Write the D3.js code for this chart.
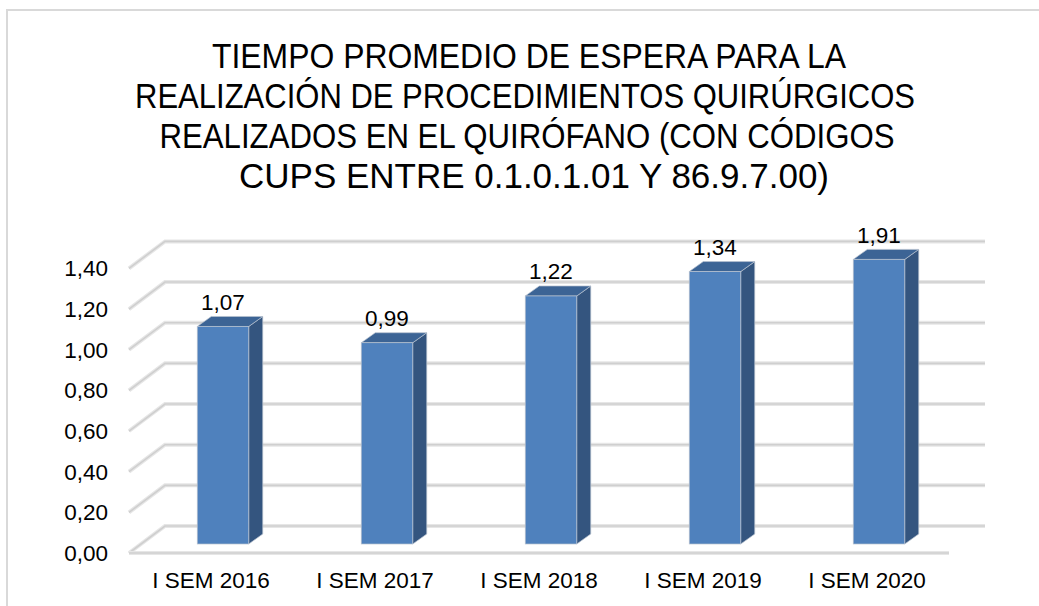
<!DOCTYPE html>
<meta charset="utf-8">
<script src="https://d3js.org/d3.v7.min.js"></script>
<style>
  body { margin: 0; background: #fff; }
  svg text { font-family: "Liberation Sans", Arial, sans-serif; fill: #000; }
</style>
<div id="chart"></div>
<script>
// data
var categories = ["I SEM 2016", "I SEM 2017", "I SEM 2018", "I SEM 2019", "I SEM 2020"];
var values = [1.07, 0.99, 1.22, 1.34, 1.91];
var valueLabels = ["1,07", "0,99", "1,22", "1,34", "1,91"];
var yTicks = [0, 0.2, 0.4, 0.6, 0.8, 1.0, 1.2, 1.4];
var titleLines = [
  "TIEMPO PROMEDIO DE ESPERA PARA LA",
  "REALIZACIÓN DE PROCEDIMIENTOS QUIRÚRGICOS",
  "REALIZADOS EN EL QUIRÓFANO (CON CÓDIGOS",
  "CUPS ENTRE 0.1.0.1.01 Y 86.9.7.00)"
];

var width = 1039, height = 606;
var yMax = 1.4;

// the title font in the picture is condensed, so each line is squeezed to its width
var titleBox = [
  {cx: 529, w: 634},
  {cx: 525, w: 780},
  {cx: 527, w: 735},
  {cx: 534, w: 590}
];

// 3d offsets: full depth of the floor, and where the bars sit in it
var depth = {dx: 36, dy: -27};
var barFront = {dx: 12, dy: -9};
var barSide = {dx: 14, dy: -10};

var svg = d3.select("#chart").append("svg")
  .attr("width", width)
  .attr("height", height);

svg.append("rect")
  .attr("width", width).attr("height", height)
  .attr("fill", "#fff");

// chart frame (only top and left show in the window)
svg.append("rect")
  .attr("x", 7).attr("y", 10)
  .attr("width", 1100).attr("height", 700)
  .attr("fill", "none")
  .attr("stroke", "#d9d9d9")
  .attr("stroke-width", 2);

// title
svg.append("g").selectAll("text")
  .data(titleLines)
  .enter().append("text")
    .attr("x", function(d, i) { return titleBox[i].cx; })
    .attr("y", function(d, i) { return 68 + i * 40; })
    .attr("text-anchor", "middle")
    .attr("textLength", function(d, i) { return titleBox[i].w; })
    .attr("lengthAdjust", "spacingAndGlyphs")
    .style("font-size", "35px")
    .text(function(d) { return d; });

// scales (front plane of the floor)
var x = d3.scaleBand()
  .domain(categories)
  .range([129, 949])
  .paddingInner(0.686)
  .paddingOuter(0.343);

var y = d3.scaleLinear()
  .domain([0, yMax])
  .range([553, 553 - yMax * 203.3]);

var xBack = 985;

// gridlines: diagonal on the side wall then across the back wall
var grid = svg.append("g");
yTicks.forEach(function(t) {
  var yf = y(t);
  var d = "M129," + yf + "L" + (129 + depth.dx) + "," + (yf + depth.dy) + "L" + xBack + "," + (yf + depth.dy);
  grid.append("path").attr("d", d)
    .attr("fill", "none").attr("stroke", "#e6e6e6").attr("stroke-width", 4);
  grid.append("path").attr("d", d)
    .attr("fill", "none").attr("stroke", "#cfcfcf").attr("stroke-width", 1.6);
});
// floor front edge
grid.append("path").attr("d", "M129," + y(0) + "L949," + y(0))
  .attr("fill", "none").attr("stroke", "#e6e6e6").attr("stroke-width", 4);
grid.append("path").attr("d", "M129," + y(0) + "L949," + y(0))
  .attr("fill", "none").attr("stroke", "#cfcfcf").attr("stroke-width", 1.6);

// y axis labels
svg.append("g").selectAll("text")
  .data(yTicks)
  .enter().append("text")
    .attr("x", 108)
    .attr("y", function(d) { return y(d); })
    .attr("dy", "0.36em")
    .attr("text-anchor", "end")
    .style("font-size", "22.5px")
    .text(function(d) { return d3.format(".2f")(d).replace(".", ","); });

// bars
var bars = svg.append("g").selectAll("g")
  .data(values)
  .enter().append("g");

function barGeom(d, i) {
  var x0 = x(categories[i]) + barFront.dx;
  var x1 = x0 + x.bandwidth();
  var yb = y(0) + barFront.dy;
  var yt = y(Math.min(d, yMax)) + barFront.dy;
  return {x0: x0, x1: x1, yb: yb, yt: yt};
}

bars.append("path")   // side
  .attr("d", function(d, i) {
    var g = barGeom(d, i);
    return "M" + g.x1 + "," + g.yb + "L" + (g.x1 + barSide.dx) + "," + (g.yb + barSide.dy) +
      "L" + (g.x1 + barSide.dx) + "," + (g.yt + barSide.dy) + "L" + g.x1 + "," + g.yt + "Z";
  })
  .attr("fill", "#34557f").attr("stroke", "#b8c2cf").attr("stroke-width", 0.7);

bars.append("path")   // top
  .attr("d", function(d, i) {
    var g = barGeom(d, i);
    return "M" + g.x0 + "," + g.yt + "L" + (g.x0 + barSide.dx) + "," + (g.yt + barSide.dy) +
      "L" + (g.x1 + barSide.dx) + "," + (g.yt + barSide.dy) + "L" + g.x1 + "," + g.yt + "Z";
  })
  .attr("fill", "#3c6495").attr("stroke", "#b8c2cf").attr("stroke-width", 0.7);

bars.append("rect")   // front
  .attr("x", function(d, i) { return barGeom(d, i).x0; })
  .attr("y", function(d, i) { return barGeom(d, i).yt; })
  .attr("width", x.bandwidth())
  .attr("height", function(d, i) { var g = barGeom(d, i); return g.yb - g.yt; })
  .attr("fill", "#4f81bd").attr("stroke", "#b8c2cf").attr("stroke-width", 0.7);

// value labels
bars.append("text")
  .attr("x", function(d, i) { var g = barGeom(d, i); return (g.x0 + g.x1) / 2; })
  .attr("y", function(d, i) { return barGeom(d, i).yt + barSide.dy - 6.5; })
  .attr("text-anchor", "middle")
  .style("font-size", "22.5px")
  .text(function(d, i) { return valueLabels[i]; });

// category labels
svg.append("g").selectAll("text")
  .data(categories)
  .enter().append("text")
    .attr("x", function(d) { return x(d) + x.bandwidth() / 2; })
    .attr("y", 588)
    .attr("text-anchor", "middle")
    .style("font-size", "22.5px")
    .text(function(d) { return d; });
</script>
